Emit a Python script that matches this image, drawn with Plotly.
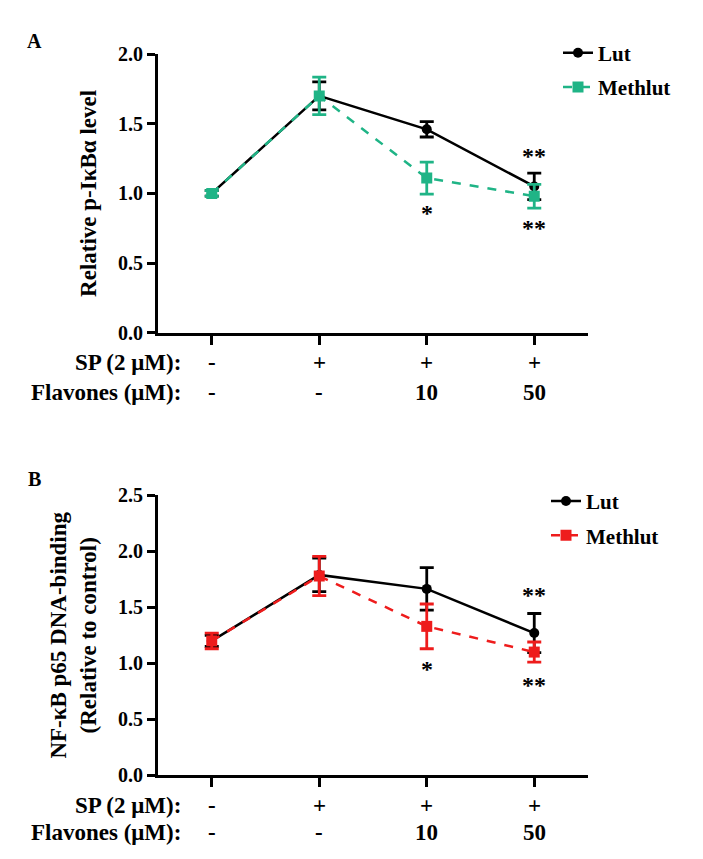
import plotly.graph_objects as go

# ---------------- data ----------------
x_pos = [0, 1, 2, 3]
sp_labels = ["-", "+", "+", "+"]
flavone_labels = ["-", "-", "10", "50"]

# Panel A : Relative p-IκBα level
a_lut = [1.00, 1.70, 1.46, 1.05]
a_lut_err = [0.02, 0.10, 0.055, 0.095]
a_meth = [1.00, 1.70, 1.11, 0.98]
a_meth_err = [0.02, 0.135, 0.115, 0.085]
a_stars_above = ["", "", "", "**"]
a_stars_above_y = [None, None, None, 1.27]
a_stars_below = ["", "", "*", "**"]
a_stars_below_y = [None, None, 0.86, 0.75]

# Panel B : NF-κB p65 DNA-binding
b_lut = [1.20, 1.79, 1.665, 1.27]
b_lut_err = [0.05, 0.15, 0.19, 0.175]
b_meth = [1.20, 1.78, 1.33, 1.10]
b_meth_err = [0.07, 0.175, 0.20, 0.09]
b_stars_above = ["", "", "", "**"]
b_stars_above_y = [None, None, None, 1.61]
b_stars_below = ["", "", "*", "**"]
b_stars_below_y = [None, None, 0.95, 0.81]

GREEN = "#1fb486"
RED = "#ee1c1c"
FONT = "Liberation Serif, Times New Roman, serif"

W, H = 703, 859

def px_x(p):
    return p / W

def px_y(p):
    return 1 - p / H

fig = go.Figure()

def add_panel(lut, lut_err, meth, meth_err, color, xa, ya, legend):
    fig.add_trace(go.Scatter(
        x=x_pos, y=lut, name="Lut", mode="lines+markers",
        line=dict(color="black", width=2.5),
        marker=dict(symbol="circle", size=10, color="black"),
        error_y=dict(type="data", array=lut_err, visible=True,
                     color="black", thickness=2.8, width=7),
        xaxis=xa, yaxis=ya, legend=legend, legendgroup=legend + "lut",
    ))
    fig.add_trace(go.Scatter(
        x=x_pos, y=meth, name="Methlut", mode="lines+markers",
        line=dict(color=color, width=2.5, dash="dash"),
        marker=dict(symbol="square", size=11, color=color),
        error_y=dict(type="data", array=meth_err, visible=True,
                     color=color, thickness=2.8, width=7),
        xaxis=xa, yaxis=ya, legend=legend, legendgroup=legend + "meth",
    ))

add_panel(a_lut, a_lut_err, a_meth, a_meth_err, GREEN, "x", "y", "legend")
add_panel(b_lut, b_lut_err, b_meth, b_meth_err, RED, "x2", "y2", "legend2")

axis_common = dict(
    showline=True, linecolor="black", linewidth=2.8,
    ticks="outside", tickcolor="black", tickwidth=2.5,
    showgrid=False, zeroline=False, mirror=False,
    tickfont=dict(family=FONT, size=20, color="black", weight="bold"),
)
title_font = dict(family=FONT, size=23, weight="bold", color="black")

xdom = [px_x(150), px_x(580)]
fig.update_layout(
    width=W, height=H,
    margin=dict(l=0, r=0, t=0, b=0),
    paper_bgcolor="white", plot_bgcolor="white",
    font=dict(family=FONT, color="black"),
    xaxis=dict(domain=xdom, range=[-0.5, 3.5], tickvals=x_pos,
               showticklabels=False, ticklen=9, anchor="y", **axis_common),
    yaxis=dict(domain=[px_y(322), px_y(36)], range=[0, 2.0], dtick=0.5,
               tickformat=".1f", ticklen=8, anchor="x",
               title=dict(text="Relative p-IκBα level", font=title_font,
                          standoff=16),
               **axis_common),
    xaxis2=dict(domain=xdom, range=[-0.5, 3.5], tickvals=x_pos,
                showticklabels=False, ticklen=9, anchor="y2", **axis_common),
    yaxis2=dict(domain=[px_y(776), px_y(489)], range=[0, 2.5], dtick=0.5,
                tickformat=".1f", ticklen=8, anchor="x2",
                title=dict(text="NF-κB p65 DNA-binding<br>(Relative to control)",
                           font=title_font, standoff=16),
                **axis_common),
    legend=dict(x=px_x(550), y=px_y(14), xanchor="left", yanchor="top",
                bgcolor="rgba(0,0,0,0)", tracegroupgap=4,
                font=dict(family=FONT, size=21, weight="bold")),
    legend2=dict(x=px_x(538), y=px_y(474), xanchor="left", yanchor="top",
                 bgcolor="rgba(0,0,0,0)", tracegroupgap=4,
                 font=dict(family=FONT, size=21, weight="bold")),
    showlegend=True,
)

ann = []
letter_font = dict(family=FONT, size=20, weight="bold", color="black")
ann.append(dict(text="A", x=px_x(26), y=px_y(23), xref="paper", yref="paper",
                xanchor="center", yanchor="middle", showarrow=False, font=letter_font))
ann.append(dict(text="B", x=px_x(26), y=px_y(472), xref="paper", yref="paper",
                xanchor="center", yanchor="middle", showarrow=False, font=letter_font))

row_font = dict(family=FONT, size=23, weight="bold", color="black")
for xa, sp_y, fl_y in [("x", 353, 383), ("x2", 807, 835)]:
    ann.append(dict(text="SP (2 μM):", x=px_x(175), y=px_y(sp_y), xref="paper",
                    yref="paper", xanchor="right", yanchor="middle",
                    showarrow=False, font=row_font))
    ann.append(dict(text="Flavones (μM):", x=px_x(175), y=px_y(fl_y), xref="paper",
                    yref="paper", xanchor="right", yanchor="middle",
                    showarrow=False, font=row_font))
    for xv, s, f in zip(x_pos, sp_labels, flavone_labels):
        ann.append(dict(text=s, x=xv, y=px_y(sp_y), xref=xa, yref="paper",
                        xanchor="center", yanchor="middle",
                        showarrow=False, font=row_font))
        ann.append(dict(text=f, x=xv, y=px_y(fl_y), xref=xa, yref="paper",
                        xanchor="center", yanchor="middle",
                        showarrow=False, font=row_font))

star_font = dict(family=FONT, size=24, weight="bold", color="black")
for xa, ya, txts, ys in [("x", "y", a_stars_above, a_stars_above_y),
                         ("x", "y", a_stars_below, a_stars_below_y),
                         ("x2", "y2", b_stars_above, b_stars_above_y),
                         ("x2", "y2", b_stars_below, b_stars_below_y)]:
    for xv, t, yv in zip(x_pos, txts, ys):
        if t:
            ann.append(dict(text=t, x=xv, y=yv, xref=xa, yref=ya,
                            xanchor="center", yanchor="middle",
                            showarrow=False, font=star_font))

fig.update_layout(annotations=ann)
fig.write_html("out.html")
